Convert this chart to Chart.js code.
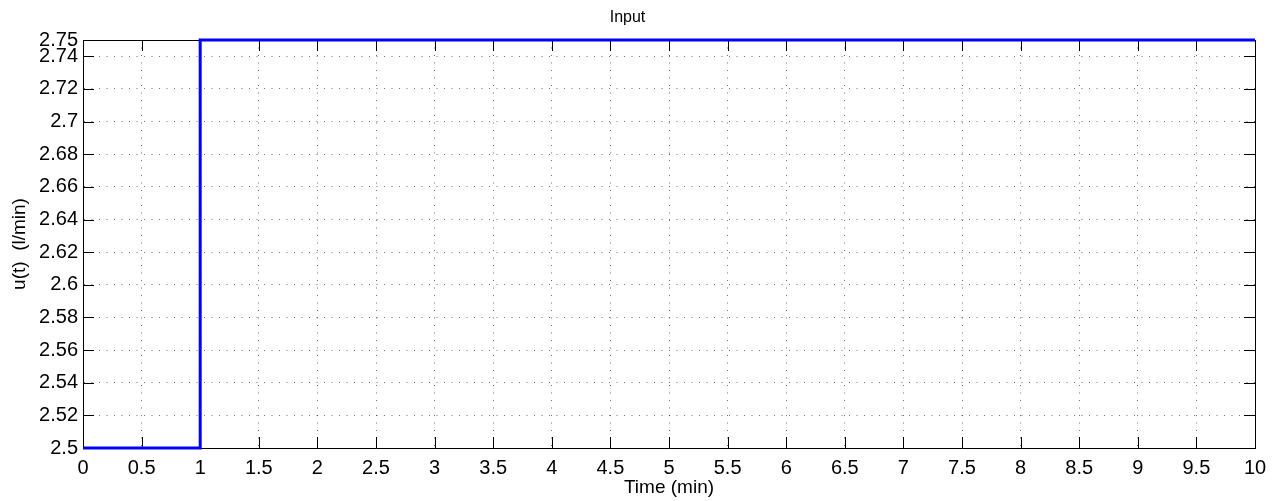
<!DOCTYPE html>
<html>
<head>
<meta charset="utf-8">
<script src="https://cdn.jsdelivr.net/npm/chart.js@4/dist/chart.umd.min.js"></script>
<style>
  html, body { margin: 0; padding: 0; background: #fff; }
  #wrap { width: 1279px; height: 501px; }
</style>
</head>
<body>
<div id="wrap"><canvas id="c" width="1279" height="501"></canvas></div>
<script>
const chartTitle = 'Input';
const xAxisTitle = 'Time (min)';
const yAxisTitle = 'u(t)  (l/min)';
const timeMin = [0, 1, 1, 10];
const inputFlow = [2.5, 2.5, 2.75, 2.75];
const xTicks = [0, 0.5, 1, 1.5, 2, 2.5, 3, 3.5, 4, 4.5, 5, 5.5, 6, 6.5, 7, 7.5, 8, 8.5, 9, 9.5, 10];
const yTicks = [2.5, 2.52, 2.54, 2.56, 2.58, 2.6, 2.62, 2.64, 2.66, 2.68, 2.7, 2.72, 2.74, 2.75];

const FONT = '"Liberation Sans", Arial, Helvetica, sans-serif';
const points = timeMin.map((t, i) => ({ x: t, y: inputFlow[i] }));

const boxPlugin = {
  id: 'matlabBox',
  beforeDatasetsDraw(chart) {
    const { ctx, chartArea: a, scales: { x, y } } = chart;
    const L = 11;
    ctx.save();
    ctx.strokeStyle = '#000';
    ctx.lineWidth = 1;
    ctx.beginPath();
    xTicks.forEach(v => {
      const px = Math.round(x.getPixelForValue(v)) + 0.5;
      ctx.moveTo(px, a.bottom); ctx.lineTo(px, a.bottom - L);
      ctx.moveTo(px, a.top); ctx.lineTo(px, a.top + L);
    });
    yTicks.forEach(v => {
      const py = Math.round(y.getPixelForValue(v)) + 0.5;
      ctx.moveTo(a.left, py); ctx.lineTo(a.left + L, py);
      ctx.moveTo(a.right, py); ctx.lineTo(a.right - L, py);
    });
    ctx.stroke();
    ctx.beginPath();
    ctx.moveTo(a.left, Math.round(a.top) + 0.5);
    ctx.lineTo(a.right, Math.round(a.top) + 0.5);
    ctx.moveTo(Math.round(a.right) + 0.5, a.top);
    ctx.lineTo(Math.round(a.right) + 0.5, a.bottom);
    ctx.stroke();
    ctx.restore();
  }
};

new Chart(document.getElementById('c'), {
  type: 'scatter',
  data: {
    datasets: [{
      data: points,
      showLine: true,
      borderColor: '#0000ff',
      backgroundColor: '#0000ff',
      borderWidth: 3,
      pointRadius: 0,
      tension: 0,
      clip: 4
    }]
  },
  options: {
    responsive: false,
    animation: false,
    events: [],
    layout: { padding: { left: 0, right: 24, top: 0, bottom: 0 } },
    plugins: {
      legend: { display: false },
      tooltip: { enabled: false },
      title: {
        display: true,
        text: chartTitle,
        color: '#000',
        font: { family: FONT, size: 16, weight: 'normal', lineHeight: 1.2 },
        padding: { top: 8, bottom: 12.8 }
      }
    },
    scales: {
      x: {
        type: 'linear',
        min: 0, max: 10,
        afterBuildTicks: s => { s.ticks = xTicks.map(v => ({ value: v })); },
        afterFit: s => { s.height = 53; },
        ticks: {
          autoSkip: false, maxRotation: 0,
          color: '#000',
          padding: 8,
          font: { family: FONT, size: 20 },
          callback: v => String(v)
        },
        grid: { color: 'rgba(0,0,0,0.55)', lineWidth: 1, drawTicks: false },
        border: { display: true, color: '#000', width: 1, dash: [1, 6.5] },
        title: {
          display: true, text: xAxisTitle, color: '#000',
          font: { family: FONT, size: 19, lineHeight: 1.2 },
          padding: { top: 0, bottom: 2 }
        }
      },
      y: {
        type: 'linear',
        min: 2.5, max: 2.75,
        afterBuildTicks: s => { s.ticks = yTicks.map(v => ({ value: v })); },
        afterFit: s => { s.width = 83; },
        ticks: {
          autoSkip: false,
          color: '#000',
          padding: 5,
          font: { family: FONT, size: 20 },
          callback: v => String(v)
        },
        grid: { color: 'rgba(0,0,0,0.55)', lineWidth: 1, drawTicks: false },
        border: { display: true, color: '#000', width: 1, dash: [1, 6.5] },
        title: {
          display: true, text: yAxisTitle, color: '#000',
          font: { family: FONT, size: 19, lineHeight: 1.2 },
          padding: { top: 8, bottom: 0 }
        }
      }
    }
  },
  plugins: [boxPlugin]
});
</script>
</body>
</html>
